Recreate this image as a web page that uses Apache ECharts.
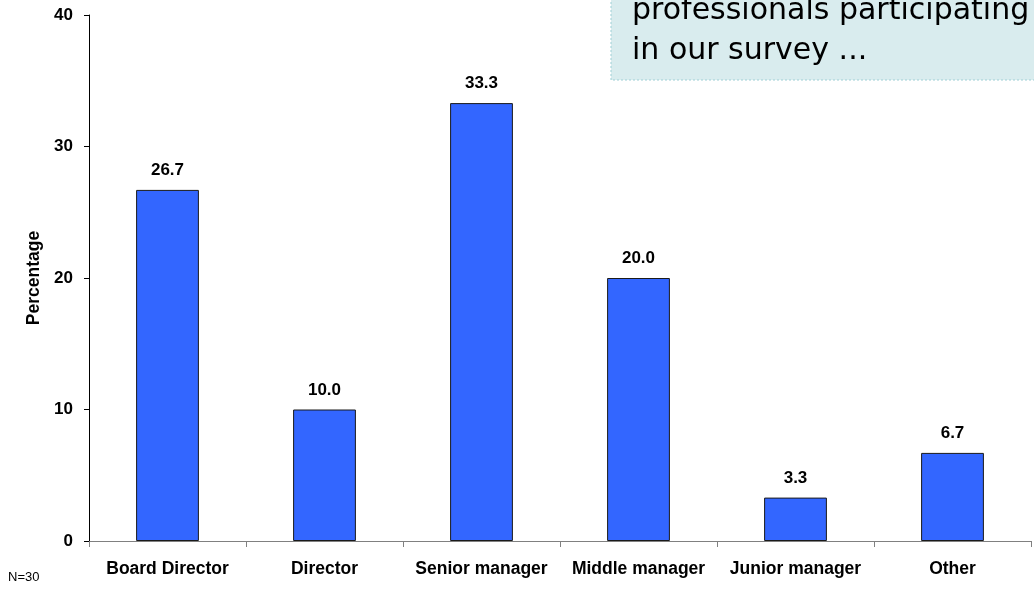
<!DOCTYPE html>
<html>
<head>
<meta charset="utf-8">
<script src="https://cdn.jsdelivr.net/npm/echarts@6/dist/echarts.min.js"></script>
<style>
  html, body { margin: 0; padding: 0; background: #ffffff; }
  #chart { width: 1034px; height: 593px; }
</style>
</head>
<body>
<div id="chart"></div>
<script>
// Seniority of survey respondents
const categories = ['Board Director', 'Director', 'Senior manager', 'Middle manager', 'Junior manager', 'Other'];
const percentages = [26.7, 10.0, 33.3, 20.0, 3.3, 6.7];
const yTicks = [0, 10, 20, 30, 40];
const calloutLines = ['professionals participating', 'in our survey ...'];
const sampleNote = 'N=30';

const chart = echarts.init(document.getElementById('chart'), null, { renderer: 'canvas' });
const font = '"Liberation Sans", Arial, sans-serif';

chart.setOption({
  animation: false,
  grid: { left: 89, right: 3, top: 15, bottom: 52, containLabel: false },
  xAxis: {
    type: 'category',
    data: categories,
    axisLine: { lineStyle: { color: '#808080', width: 1 } },
    axisTick: { show: true, interval: 0, alignWithLabel: false, length: 6, inside: false, lineStyle: { color: '#808080' } },
    axisLabel: { interval: 0, hideOverlap: false, color: '#000', fontFamily: font, fontWeight: 'bold', fontSize: 17.5, margin: 19 }
  },
  yAxis: {
    type: 'value',
    min: yTicks[0],
    max: yTicks[yTicks.length - 1],
    interval: 10,
    name: 'Percentage',
    nameLocation: 'middle',
    nameGap: 40,
    nameRotate: 90,
    nameTextStyle: { color: '#000', fontFamily: font, fontWeight: 'bold', fontSize: 17.5 },
    axisLine: { show: true, lineStyle: { color: '#000', width: 1 } },
    axisTick: { show: true, length: 5, lineStyle: { color: '#000' } },
    splitLine: { show: false },
    axisLabel: { color: '#000', fontFamily: font, fontWeight: 'bold', fontSize: 17, margin: 16 }
  },
  series: [{
    type: 'bar',
    data: percentages,
    barWidth: '40%',
    itemStyle: { color: '#3366FF', borderColor: '#1a1a1a', borderWidth: 1 },
    label: {
      show: true,
      position: 'top',
      distance: 11,
      formatter: p => p.value.toFixed(1),
      color: '#000',
      fontFamily: font,
      fontWeight: 'bold',
      fontSize: 17
    }
  }],
  graphic: [
    {
      type: 'rect',
      z: 100,
      shape: { x: 611, y: -20, width: 440, height: 100 },
      style: { fill: '#d9ecee', stroke: '#9fd0d6', lineWidth: 1, lineDash: [2, 2] }
    },
    {
      type: 'text',
      z: 101,
      left: 632,
      top: -9,
      style: {
        text: calloutLines.join('\n'),
        fill: '#000',
        font: '500 30px "DejaVu Sans", sans-serif',
        lineHeight: 40
      }
    },
    {
      type: 'text',
      left: 8,
      top: 571,
      style: { text: sampleNote, fill: '#000', font: '13px "Liberation Sans", Arial, sans-serif' }
    }
  ]
});
</script>
</body>
</html>
